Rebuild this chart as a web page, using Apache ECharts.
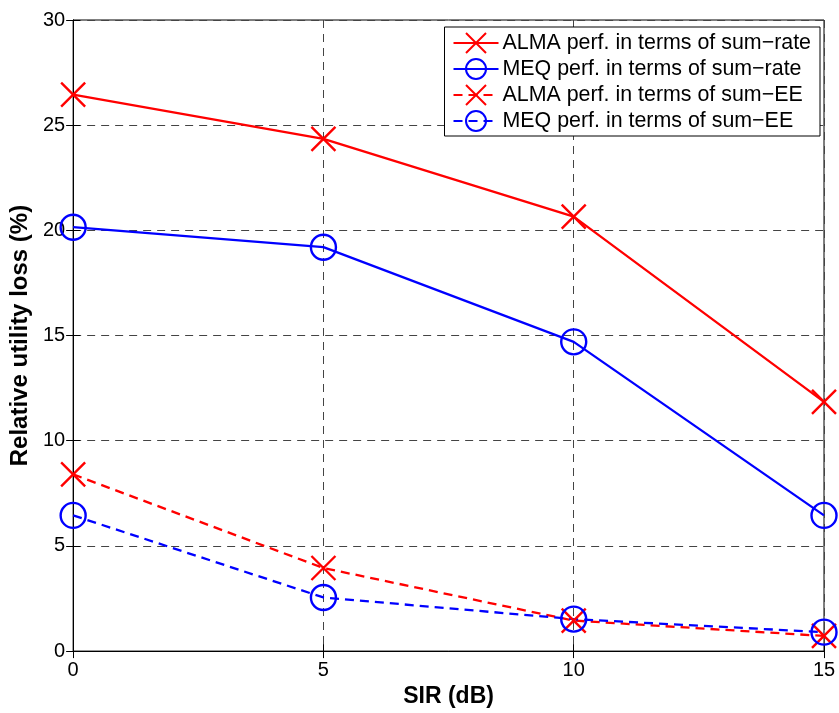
<!DOCTYPE html>
<html><head><meta charset="utf-8">
<script src="https://cdn.jsdelivr.net/npm/echarts@6/dist/echarts.min.js"></script>
<style>html,body{margin:0;padding:0;background:#fff;overflow:hidden}#c{width:839px;height:713px}</style>
</head><body><div id="c"></div>
<script>
const sir = [0, 5, 10, 15];
const almaRate = [26.45, 24.35, 20.65, 11.85];
const meqRate = [20.15, 19.2, 14.7, 6.45];
const almaEE = [8.4, 3.95, 1.45, 0.72];
const meqEE = [6.45, 2.55, 1.52, 0.9];
const xTicks = [0, 5, 10, 15];
const yTicks = [0, 5, 10, 15, 20, 25, 30];
const names = ['ALMA perf. in terms of sum\u2212rate','MEQ perf. in terms of sum\u2212rate','ALMA perf. in terms of sum\u2212EE','MEQ perf. in terms of sum\u2212EE'];

const X = 'path://M0,0L10,10M10,0L0,10';
function mk(name, data, color, isCircle, dashed) {
  return {
    name, type: 'line', data: sir.map((x, i) => [x, data[i]]),
    symbol: isCircle ? 'circle' : X, symbolSize: isCircle ? 25 : 24,
    showSymbol: true, clip: false,
    lineStyle: { color, width: 2.3, type: dashed ? [9, 6] : 'solid' },
    itemStyle: { color: isCircle ? 'rgba(0,0,0,0)' : color, borderColor: color, borderWidth: 2.4 },
    emphasis: { disabled: true }, animation: false, z: 3
  };
}
const chart = echarts.init(document.getElementById('c'));
const font = 'Liberation Sans, Arial, sans-serif';
const splitStyle = { show: true, lineStyle: { color: '#444', type: [8, 6], width: 1 } };
chart.setOption({
  animation: false,
  grid: { left: 73, right: 15, top: 20, bottom: 59, show: true, borderColor: '#000', borderWidth: 1 },
  xAxis: [{
    type: 'value', min: xTicks[0], max: xTicks[xTicks.length - 1], interval: 5,
    name: 'SIR (dB)', nameLocation: 'middle', nameGap: 25,
    nameTextStyle: { fontFamily: font, fontSize: 23, fontWeight: 'bold', color: '#000' },
    axisLine: { lineStyle: { color: '#000', width: 1 } },
    axisTick: { inside: true, length: 7, lineStyle: { color: '#000' } },
    axisLabel: { fontFamily: font, fontSize: 20, color: '#000', margin: 9 },
    splitLine: splitStyle
  }, {
    type: 'value', position: 'top', min: 0, max: 15, interval: 5,
    axisLine: { show: true, lineStyle: { color: '#000' } },
    axisTick: { inside: true, length: 7, lineStyle: { color: '#000' } },
    axisLabel: { show: false }, splitLine: { show: false }
  }],
  yAxis: [{
    type: 'value', min: yTicks[0], max: yTicks[yTicks.length - 1], interval: 5,
    name: 'Relative utility loss (%)', nameLocation: 'middle', nameGap: 33,
    nameTextStyle: { fontFamily: font, fontSize: 24, fontWeight: 'bold', color: '#000' },
    axisLine: { show: true, lineStyle: { color: '#000', width: 1 } },
    axisTick: { show: true, inside: true, length: 7, lineStyle: { color: '#000' } },
    axisLabel: { fontFamily: font, fontSize: 20, color: '#000', margin: 8 },
    splitLine: splitStyle
  }, {
    type: 'value', position: 'right', min: 0, max: 30, interval: 5,
    axisLine: { show: true, lineStyle: { color: '#000' } },
    axisTick: { show: true, inside: true, length: 7, lineStyle: { color: '#000' } },
    axisLabel: { show: false }, splitLine: { show: false }
  }],
  legend: {
    orient: 'vertical', right: 19, top: 27,
    data: names,
    backgroundColor: '#fff', borderColor: '#000', borderWidth: 1,
    padding: [5, 9, 4, 8], itemGap: 4, itemWidth: 45, itemHeight: 25,
    textStyle: { fontFamily: font, fontSize: 21.4, lineHeight: 22, color: '#000', padding: [0, 0, 0, -1] },
    selectedMode: false
  },
  series: [
    mk(names[0], almaRate, '#ff0000', false, false),
    mk(names[1], meqRate, '#0000ff', true, false),
    mk(names[2], almaEE, '#ff0000', false, true),
    mk(names[3], meqEE, '#0000ff', true, true)
  ]
});
</script></body></html>
